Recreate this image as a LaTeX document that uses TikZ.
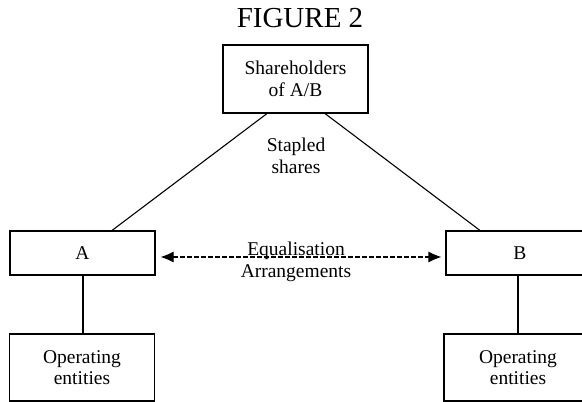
\documentclass[tikz,border=0pt]{standalone}
\usepackage{fontspec}
\setmainfont{Liberation Serif}
\usetikzlibrary{arrows.meta,positioning}
\tikzset{%
  >={Latex[length=13pt,width=11pt]},
  box/.style={draw,line width=1.1pt,minimum width=145pt,align=center,
    inner sep=0pt,font=\fontsize{19.5}{21.5}\selectfont},
  lbl/.style={align=center,inner sep=0pt,font=\fontsize{19.5}{21.5}\selectfont},
  link/.style={line width=1.1pt}%
}
\begin{document}
\begin{tikzpicture}[x=1pt,y=-1pt]
\useasboundingbox (0,0) rectangle (582,402);
\clip (0,0) rectangle (582,402);

\node[anchor=base,inner sep=0pt,font=\fontsize{29}{32}\selectfont] (title) at (300,27) {FIGURE 2};

\node[box,minimum height=68pt] (share) at (295.5,79) {Shareholders\\of A/B};
\node[box,minimum height=44pt] (A) at (82.5,253) {A};
\node[box,minimum height=44pt,minimum width=148pt] (B) at (520,253) {B};
\node[box,minimum height=67pt] (opA) at (82,367.5) {Operating\\entities};
\node[box,minimum height=67pt,minimum width=148pt] (opB) at (518,367.5) {Operating\\entities};

\node[lbl] (staple) at (296,156) {Stapled\\shares};
\node[lbl] (equal) at (296,262) {Equalisation\\Arrangements};

\draw[link] ([xshift=-28.5pt]share.south) -- ([xshift=29.5pt]A.north);
\draw[link] ([xshift=29.5pt]share.south) -- ([xshift=-40pt]B.north);
\draw[link,<->,dash pattern=on 4.5pt off 2.5pt,shorten <=5pt,shorten >=4pt]
  ([yshift=-4pt]A.east) -- ([yshift=-4pt]B.west);
\draw[link] ([xshift=0.5pt]A.south) -- ([xshift=0.5pt]A.south |- opA.north);
\draw[link] ([xshift=-2pt]B.south) -- ([xshift=-2pt]B.south |- opB.north);
\end{tikzpicture}
\end{document}
